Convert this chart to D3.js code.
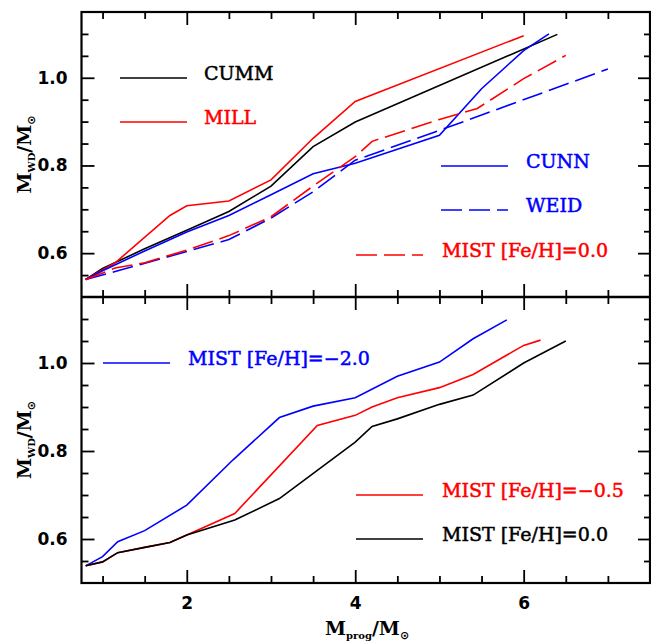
<!DOCTYPE html>
<html>
<head>
<meta charset="utf-8">
<script src="https://cdn.jsdelivr.net/npm/d3@7"></script>
<style>
  body { margin: 0; background: #fff; }
  .tick text { font-family: 'DejaVu Sans', sans-serif; font-weight: bold; font-size: 17px; fill: #000; }
  .lab { font-family: 'DejaVu Serif', serif; font-size: 19px; }
</style>
</head>
<body>
<div id="chart"></div>
<script>
// initial-final mass relations, top panel (M_prog, M_WD)
const cumm = [[0.8, 0.54], [1.0, 0.565], [1.5, 0.61], [2.0, 0.652], [2.5, 0.695], [3.0, 0.753], [3.5, 0.843], [4.0, 0.899], [6.4, 1.099]]
const mill = [[0.8, 0.54], [1.15, 0.578], [1.8, 0.686], [2.0, 0.708], [2.5, 0.719], [3.0, 0.767], [3.5, 0.862], [4.0, 0.946], [6.0, 1.096]]
const cunn = [[0.8, 0.54], [1.0, 0.56], [1.5, 0.605], [2.0, 0.648], [2.5, 0.686], [3.0, 0.733], [3.5, 0.781], [4.0, 0.805], [5.0, 0.869], [5.5, 0.975], [6.0, 1.062], [6.3, 1.1]]
const weid = [[0.8, 0.54], [1.15, 0.558], [1.8, 0.593], [2.5, 0.631], [3.0, 0.68], [3.5, 0.74], [4.0, 0.812], [5.0, 0.88], [7.0, 1.02]]
const mistTop = [[0.8, 0.54], [1.15, 0.566], [1.5, 0.578], [2.0, 0.607], [2.5, 0.64], [3.0, 0.683], [3.5, 0.753], [4.0, 0.82], [4.2, 0.855], [5.0, 0.905], [5.45, 0.93], [6.0, 0.998], [6.5, 1.051]]

// bottom panel, MIST at three metallicities
const mistM20 = [[0.8, 0.539], [1.0, 0.56], [1.18, 0.594], [1.5, 0.619], [2.0, 0.677], [2.55, 0.78], [3.1, 0.876], [3.5, 0.902], [4.0, 0.921], [4.5, 0.97], [5.0, 1.002], [5.4, 1.055], [5.8, 1.098]]
const mistM05 = [[0.8, 0.539], [1.0, 0.548], [1.18, 0.569], [1.5, 0.581], [1.8, 0.592], [2.0, 0.609], [2.57, 0.658], [3.55, 0.858], [4.0, 0.881], [4.2, 0.9], [4.5, 0.921], [5.0, 0.944], [5.4, 0.974], [6.0, 1.04], [6.2, 1.052]]
const mist00 = [[0.8, 0.539], [1.0, 0.548], [1.18, 0.569], [1.5, 0.581], [1.8, 0.592], [2.0, 0.609], [2.57, 0.643], [3.1, 0.692], [4.0, 0.82], [4.2, 0.856], [4.5, 0.873], [5.0, 0.906], [5.4, 0.927], [6.0, 1.0], [6.5, 1.05]]

const xMajor = [2, 4, 6]
const xMinor = [1, 1.5, 2.5, 3, 3.5, 4.5, 5, 5.5, 6.5, 7]
const yMajor = [0.6, 0.8, 1.0]
const yMinor = [0.55, 0.65, 0.7, 0.75, 0.85, 0.9, 0.95, 1.05, 1.1]

const width = 651
const height = 644
const left = 81.5
const right = 650
const panels = [{top: 12, bottom: 297}, {top: 297, bottom: 583}]

const svg = d3.select('#chart').append('svg')
  .attr('width', width)
  .attr('height', height)

const x = d3.scaleLinear().domain([0.75, 7.5]).range([left, right])

const line = (y) => d3.line().x(d => x(d[0])).y(d => y(d[1]))

function drawAxes(p, y, showX) {
  const g = svg.append('g')
  const axes = [
    [d3.axisLeft(y).tickValues(yMajor).tickSize(-13).tickPadding(14).tickFormat(d3.format('.1f')), 'translate(' + left + ',0)'],
    [d3.axisLeft(y).tickValues(yMinor).tickSize(-7).tickFormat(''), 'translate(' + left + ',0)'],
    [d3.axisRight(y).tickValues(yMajor).tickSize(-12).tickFormat(''), 'translate(' + right + ',0)'],
    [d3.axisRight(y).tickValues(yMinor).tickSize(-6).tickFormat(''), 'translate(' + right + ',0)'],
    [d3.axisTop(x).tickValues(xMajor).tickSize(-13).tickFormat(''), 'translate(0,' + p.top + ')'],
    [d3.axisTop(x).tickValues(xMinor).tickSize(-7).tickFormat(''), 'translate(0,' + p.top + ')'],
    [d3.axisBottom(x).tickValues(xMajor).tickSize(-13).tickPadding(14).tickFormat(showX ? d3.format('d') : ''), 'translate(0,' + p.bottom + ')'],
    [d3.axisBottom(x).tickValues(xMinor).tickSize(-7).tickFormat(''), 'translate(0,' + p.bottom + ')']
  ]
  axes.forEach(([axis, tr]) => {
    const a = g.append('g').attr('transform', tr).call(axis)
    a.select('.domain').remove()
    a.selectAll('.tick line').attr('stroke', '#000').attr('stroke-width', 1.8)
  })

  // y label
  const t = svg.append('text')
    .attr('class', 'lab')
    .attr('transform', 'translate(31,' + ((p.top + p.bottom) / 2) + ') rotate(-90)')
    .attr('text-anchor', 'middle')
    .attr('font-weight', 'bold')
    .attr('font-size', 18)
  t.append('tspan').text('M')
  t.append('tspan').attr('font-size', 10).attr('dy', 4).text('WD')
  t.append('tspan').attr('dy', -4).text('/M')
  t.append('tspan').attr('font-size', 11).attr('dy', 4).attr('font-family', 'DejaVu Sans').text('⊙')
}

function drawSeries(y, data, color, dash) {
  svg.append('path')
    .datum(data)
    .attr('fill', 'none')
    .attr('stroke', color)
    .attr('stroke-width', 1.6)
    .attr('stroke-dasharray', dash ? '21,7' : null)
    .attr('d', line(y))
}

function legend(x1, ly, x2, tx, label, color, dash) {
  svg.append('line')
    .attr('x1', x1).attr('x2', x2)
    .attr('y1', ly).attr('y2', ly)
    .attr('stroke', color)
    .attr('stroke-width', 1.6)
    .attr('stroke-dasharray', dash ? '21,7' : null)
  svg.append('text')
    .attr('class', 'lab')
    .attr('x', tx)
    .attr('y', ly + 1.5)
    .attr('fill', color)
    .attr('stroke', color)
    .attr('stroke-width', 0.5)
    .text(label)
}

const yTop = d3.scaleLinear().domain([0.5, 1.15]).range([panels[0].bottom, panels[0].top])
const yBot = d3.scaleLinear().domain([0.5, 1.15]).range([panels[1].bottom, panels[1].top])

drawAxes(panels[0], yTop, false)
drawAxes(panels[1], yBot, true)

drawSeries(yTop, cumm, '#000', false)
drawSeries(yTop, mill, '#f00', false)
drawSeries(yTop, cunn, '#00f', false)
drawSeries(yTop, weid, '#00f', true)
drawSeries(yTop, mistTop, '#f00', true)

drawSeries(yBot, mistM20, '#00f', false)
drawSeries(yBot, mistM05, '#f00', false)
drawSeries(yBot, mist00, '#000', false)

legend(120, 78, 187, 204, 'CUMM', '#000', false)
legend(120, 122, 187, 204, 'MILL', '#f00', false)
legend(441, 166, 508, 526, 'CUNN', '#00f', false)
legend(441, 210, 508, 526, 'WEID', '#00f', true)
legend(356, 255, 423, 442, 'MIST [Fe/H]=0.0', '#f00', true)

legend(103, 363, 170, 188, 'MIST [Fe/H]=\u22122.0', '#00f', false)
legend(356, 495, 423, 442, 'MIST [Fe/H]=\u22120.5', '#f00', false)
legend(356, 539, 423, 442, 'MIST [Fe/H]=0.0', '#000', false)

// frame and panel divider
svg.append('rect')
  .attr('x', left).attr('y', panels[0].top)
  .attr('width', right - left).attr('height', panels[1].bottom - panels[0].top)
  .attr('fill', 'none').attr('stroke', '#000').attr('stroke-width', 2.2)
svg.append('line')
  .attr('x1', left).attr('x2', right)
  .attr('y1', panels[0].bottom).attr('y2', panels[0].bottom)
  .attr('stroke', '#000').attr('stroke-width', 2.6)

// x label
const xl = svg.append('text')
  .attr('class', 'lab')
  .attr('x', 367).attr('y', 635)
  .attr('text-anchor', 'middle')
  .attr('font-weight', 'bold')
  .attr('font-size', 18)
xl.append('tspan').text('M')
xl.append('tspan').attr('font-size', 10).attr('dy', 4).text('prog')
xl.append('tspan').attr('dy', -4).text('/M')
xl.append('tspan').attr('font-size', 11).attr('dy', 4).attr('font-family', 'DejaVu Sans').text('⊙')
</script>
</body>
</html>
